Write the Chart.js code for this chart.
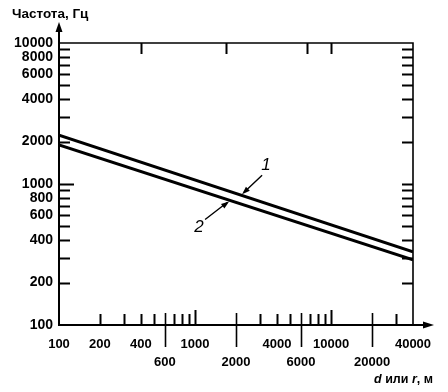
<!DOCTYPE html>
<html>
<head>
<meta charset="utf-8">
<script src="https://cdn.jsdelivr.net/npm/chart.js@4/dist/chart.umd.min.js"></script>
<style>
    html, body { margin: 0; padding: 0; background: #fff; }
    #wrap { width: 448px; height: 392px; position: relative; }
</style>
</head>
<body>
<div id="wrap"><canvas id="chart"></canvas></div>
<script>
// distance d or r, m (ends of the plotted range)
const distEnds = [100, 40000];
// frequency, Hz, at both ends
const curve1 = [2220, 330];
const curve2 = [1890, 290];

// tick labels
const xLabelsTop = [100, 200, 400, 1000, 4000, 10000, 40000];
const xLabelsLow = [600, 2000, 6000, 20000];
const yLabels = [100, 200, 400, 600, 800, 1000, 2000, 4000, 6000, 8000, 10000];

// tick marks
const xSmallTicks = [200, 300, 400, 500, 700, 800, 900, 3000, 4000, 5000, 7000, 8000, 9000, 30000];
const xTallTicks = [1000, 10000];
const xCrossTicks = [600, 2000, 6000, 20000];
const xTopTicks = [400, 1700, 6600, 10000];
const ySmallTicks = [200, 300, 400, 500, 600, 700, 800, 900, 2000, 3000, 4000, 5000, 6000, 7000, 8000, 9000];
const yTallTicks = [1000];

// where the callout arrows touch the curves
const callout1X = 2180;
const callout2X = 1810;

const FONT = 'Liberation Sans, Arial, sans-serif';

function toPoints(ys) {
    return distEnds.map((x, i) => ({ x: x, y: ys[i] }));
}

function arrowHead(ctx, x0, y0, x1, y1, len, half) {
    const a = Math.atan2(y1 - y0, x1 - x0);
    ctx.beginPath();
    ctx.moveTo(x1, y1);
    ctx.lineTo(x1 - len * Math.cos(a) + half * Math.sin(a), y1 - len * Math.sin(a) - half * Math.cos(a));
    ctx.lineTo(x1 - len * Math.cos(a) - half * Math.sin(a), y1 - len * Math.sin(a) + half * Math.cos(a));
    ctx.closePath();
    ctx.fill();
}

// y pixel of a curve (straight in log-log) at a given x value
function curvePixel(chart, ys, xv) {
    const xs = chart.scales.x, yS = chart.scales.y;
    const x0 = xs.getPixelForValue(distEnds[0]), x1 = xs.getPixelForValue(distEnds[1]);
    const y0 = yS.getPixelForValue(ys[0]), y1 = yS.getPixelForValue(ys[1]);
    const px = xs.getPixelForValue(xv);
    return { x: px, y: y0 + (px - x0) / (x1 - x0) * (y1 - y0) };
}

const decorPlugin = {
    id: 'decor',
    afterDraw(chart) {
        const ctx = chart.ctx;
        const area = chart.chartArea;
        const xs = chart.scales.x, yS = chart.scales.y;
        ctx.save();
        ctx.strokeStyle = '#000';
        ctx.fillStyle = '#000';
        ctx.lineCap = 'butt';

        // frame (top and right)
        ctx.lineWidth = 1.6;
        ctx.beginPath();
        ctx.moveTo(area.left, area.top);
        ctx.lineTo(area.right, area.top);
        ctx.lineTo(area.right, area.bottom);
        ctx.stroke();

        // axis extensions with arrows
        ctx.lineWidth = 2;
        ctx.beginPath();
        ctx.moveTo(area.left, area.top);
        ctx.lineTo(area.left, 30);
        ctx.moveTo(area.right, area.bottom);
        ctx.lineTo(426, area.bottom);
        ctx.stroke();
        arrowHead(ctx, area.left, 40, area.left, 22, 10, 3.5);
        arrowHead(ctx, 410, area.bottom, 434, area.bottom, 11, 3.5);

        // y ticks on both sides, pointing inwards
        ctx.lineWidth = 2;
        ySmallTicks.concat(yTallTicks).forEach(v => {
            const py = Math.round(yS.getPixelForValue(v)) + 0.5;
            const len = yTallTicks.includes(v) ? 15 : 11;
            ctx.beginPath();
            ctx.moveTo(area.left, py);
            ctx.lineTo(area.left + len, py);
            ctx.moveTo(area.right, py);
            ctx.lineTo(area.right - 11, py);
            ctx.stroke();
        });

        // x ticks along the bottom
        xSmallTicks.concat(xTallTicks).forEach(v => {
            const px = Math.round(xs.getPixelForValue(v)) + 0.5;
            const len = xTallTicks.includes(v) ? 15 : 11;
            ctx.beginPath();
            ctx.moveTo(px, area.bottom);
            ctx.lineTo(px, area.bottom - len);
            ctx.stroke();
        });
        ctx.lineWidth = 1.6;
        xCrossTicks.forEach(v => {
            const px = Math.round(xs.getPixelForValue(v)) + 0.5;
            ctx.beginPath();
            ctx.moveTo(px, area.bottom - 12);
            ctx.lineTo(px, area.bottom + 22);
            ctx.stroke();
        });

        // x ticks along the top
        ctx.lineWidth = 2;
        xTopTicks.forEach(v => {
            const px = Math.round(xs.getPixelForValue(v)) + 0.5;
            ctx.beginPath();
            ctx.moveTo(px, area.top);
            ctx.lineTo(px, area.top + 11);
            ctx.stroke();
        });

        // callouts for curves 1 and 2
        ctx.lineWidth = 1.4;
        const t1 = curvePixel(chart, curve1, callout1X);
        const t2 = curvePixel(chart, curve2, callout2X);
        ctx.beginPath();
        ctx.moveTo(t1.x + 21, t1.y - 20);
        ctx.lineTo(t1.x + 3, t1.y - 3);
        ctx.moveTo(t2.x - 25, t2.y + 19);
        ctx.lineTo(t2.x - 3, t2.y + 2);
        ctx.stroke();
        arrowHead(ctx, t1.x + 21, t1.y - 20, t1.x + 1, t1.y - 1, 8, 2.8);
        arrowHead(ctx, t2.x - 25, t2.y + 19, t2.x - 1, t2.y + 1, 8, 2.8);

        ctx.font = 'italic 17px ' + FONT;
        ctx.textAlign = 'center';
        ctx.textBaseline = 'middle';
        ctx.fillText('1', t1.x + 25, t1.y - 30);
        ctx.fillText('2', t2.x - 31, t2.y + 27);

        // y axis title
        ctx.font = 'bold 13.5px ' + FONT;
        ctx.textAlign = 'left';
        ctx.fillText('Частота, Гц', 12, 14);

        // x axis title, right aligned
        const parts = [
            ['d', 'italic bold 12.5px '],
            [' или ', 'bold 12.5px '],
            ['r', 'italic bold 12.5px '],
            [', м', 'bold 12.5px ']
        ];
        let total = 0;
        parts.forEach(p => { ctx.font = p[1] + FONT; total += ctx.measureText(p[0]).width; });
        let cx = 433 - total;
        parts.forEach(p => {
            ctx.font = p[1] + FONT;
            ctx.fillText(p[0], cx, 380);
            cx += ctx.measureText(p[0]).width;
        });

        ctx.restore();
    }
};

const lineStyle = {
    borderColor: '#000',
    backgroundColor: '#000',
    borderWidth: 3,
    pointRadius: 0,
    showLine: true,
    fill: false
};

const chart = new Chart(document.getElementById('chart'), {
    type: 'scatter',
    data: {
        datasets: [
            { label: '1', data: toPoints(curve1), ...lineStyle },
            { label: '2', data: toPoints(curve2), ...lineStyle }
        ]
    },
    options: {
        responsive: true,
        maintainAspectRatio: false,
        animation: false,
        layout: { padding: { left: 0, right: 35, top: 43, bottom: 0 } },
        plugins: {
            legend: { display: false },
            tooltip: { enabled: false }
        },
        scales: {
            x: {
                type: 'logarithmic',
                min: distEnds[0],
                max: distEnds[1],
                afterBuildTicks: s => { s.ticks = xLabelsTop.concat(xLabelsLow).sort((a, b) => a - b).map(v => ({ value: v })); },
                afterFit: s => { s.height = 67; },
                grid: { display: false, drawTicks: false },
                border: { display: true, color: '#000', width: 2 },
                ticks: {
                    autoSkip: false,
                    maxRotation: 0,
                    padding: 10,
                    color: '#000',
                    font: { family: FONT, size: 13, weight: 'bold', lineHeight: 1.4 },
                    callback: v => xLabelsLow.includes(v) ? ['', String(v)] : String(v)
                }
            },
            y: {
                type: 'logarithmic',
                min: 100,
                max: 10000,
                afterBuildTicks: s => { s.ticks = yLabels.map(v => ({ value: v })); },
                afterFit: s => { s.width = 59; },
                grid: { display: false, drawTicks: false },
                border: { display: true, color: '#000', width: 2 },
                ticks: {
                    autoSkip: false,
                    padding: 6,
                    color: '#000',
                    font: { family: FONT, size: 14, weight: 'bold' },
                    callback: v => String(v)
                }
            }
        }
    },
    plugins: [decorPlugin]
});
</script>
</body>
</html>
